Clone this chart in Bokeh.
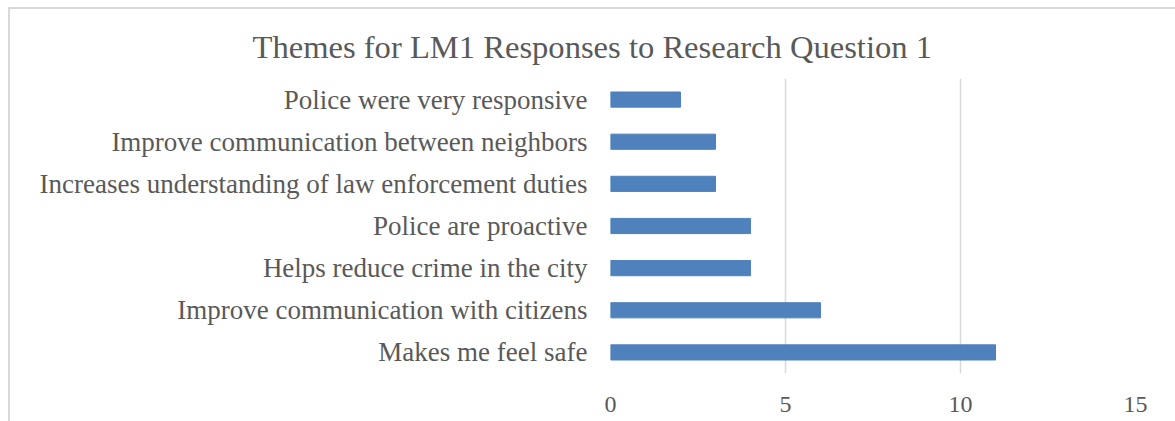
from bokeh.plotting import figure
from bokeh.models import FactorRange, Range1d, FixedTicker
from bokeh.embed import file_html
from bokeh.resources import INLINE

title = "Themes for LM1 Responses to Research Question 1"
themes = [
    "Police were very responsive",
    "Improve communication between neighbors",
    "Increases understanding of law enforcement duties",
    "Police are proactive",
    "Helps reduce crime in the city",
    "Improve communication with citizens",
    "Makes me feel safe",
]
counts = [2, 3, 3, 4, 4, 6, 11]
x_ticks = [0, 5, 10, 15]

FONT = "Liberation Serif"
GRAY = "#595959"

factors = list(reversed(themes))
p = figure(
    width=1167, height=414,
    y_range=FactorRange(factors=factors, range_padding=0),
    x_range=Range1d(0, 15),
    output_backend="svg", toolbar_location=None,
    min_border_left=600, min_border_right=42, min_border_top=69, min_border_bottom=50,
    margin=(7, 0, 0, 8),
    title=title,
)
p.styles = {"border-left": "2px solid #d9d9d9", "border-top": "2px solid #d9d9d9", "box-sizing": "border-box"}
p.hbar(y=themes, right=counts, left=0, height=0.36, color="#4F81BD")

p.title.align = "left"
p.title.offset = -358
p.title.standoff = 27
p.title.text_font = FONT
p.title.text_font_size = "32.6px"
p.title.text_font_style = "normal"
p.title.text_color = GRAY

p.outline_line_color = None
p.ygrid.grid_line_color = None
p.xgrid.grid_line_color = "#d9d9d9"
p.xgrid.grid_line_width = 1.5
p.xaxis.ticker = FixedTicker(ticks=x_ticks)
for ax in (p.xaxis, p.yaxis):
    ax.axis_line_color = None
    ax.major_tick_line_color = None
    ax.minor_tick_line_color = None
    ax.major_label_text_font = FONT
    ax.major_label_text_color = GRAY
p.yaxis.major_label_text_font_size = "27px"
p.xaxis.major_label_text_font_size = "24px"
p.xaxis.major_label_standoff = 17
p.yaxis.major_label_standoff = 17

open("out.html", "w").write(file_html(p, INLINE))
